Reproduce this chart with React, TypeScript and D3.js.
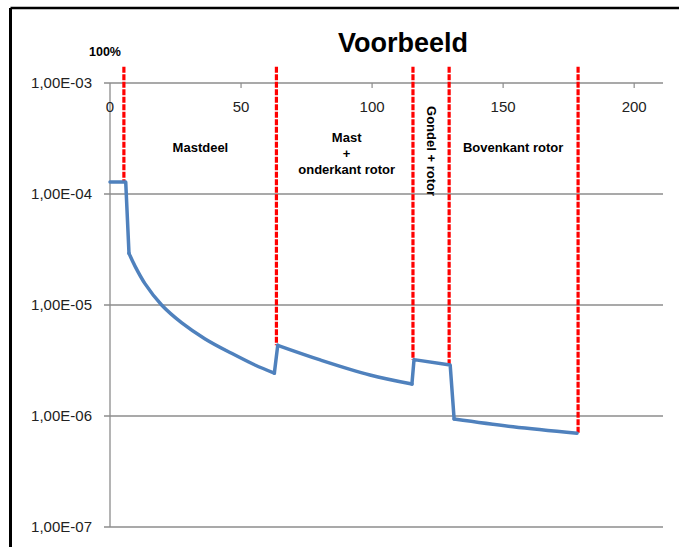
import React from "react";
import * as d3 from "d3";

// blue series (x = position, y = value on log axis)
const lineX = [0, 6.0, 7.25, 9.5, 13.4, 19.7, 27.4, 36.3, 46.4, 55.3, 62.7, 64.0, 80.2, 99.2, 115.2, 116.0, 129.8, 131.3, 153.8, 178.2];
const lineY = [1.28e-4, 1.28e-4, 2.92e-5, 2.25e-5, 1.55e-5, 1.0e-5, 6.9e-6, 4.95e-6, 3.67e-6, 2.88e-6, 2.43e-6, 4.33e-6, 3.2e-6, 2.34e-6, 1.94e-6, 3.22e-6, 2.88e-6, 9.4e-7, 8.0e-7, 7.0e-7];
// index ranges of the smooth (curved) stretches; everything else is straight
const smoothRuns = [[2, 10], [11, 14], [17, 19]];

// red section boundaries
const boundX = [5.3, 63.5, 115.6, 129.4, 178.6];
const boundBottom = [1.3e-4, 4.33e-6, 3.22e-6, 2.88e-6, 7.0e-7];
const boundTop = 1.4e-3;

const xTicks = [0, 50, 100, 150, 200];
const yTicks = [1e-3, 1e-4, 1e-5, 1e-6, 1e-7];

const sections = [
  { lines: ["Mastdeel"], x: 34.5 },
  { lines: ["Mast", "+", "onderkant rotor"], x: 90.3 },
  { lines: ["Bovenkant rotor"], x: 153.8 },
];
const verticalLabel = { text: "Gondel + rotor", x: 122.7 };

const title = "Voorbeeld";
const FONT = "'Liberation Sans', Arial, sans-serif";

const W = 679;
const H = 547;

function fmtExp(v: number) {
  const e = Math.round(Math.log10(v));
  const s = e < 0 ? "-" : "+";
  return `1,00E${s}${String(Math.abs(e)).padStart(2, "0")}`;
}

export default function App() {
  const x = d3.scaleLinear().domain([0, 211]).range([110, 663]);
  const y = d3.scaleLog().domain([1e-7, 1e-3]).range([527, 83]);

  const pts = lineX.map((v, i) => [v, lineY[i]] as [number, number]);
  const lin = d3.line<[number, number]>().x((d) => x(d[0])).y((d) => y(d[1]));
  const smooth = d3
    .line<[number, number]>()
    .x((d) => x(d[0]))
    .y((d) => y(d[1]))
    .curve(d3.curveCatmullRom.alpha(0.5));

  // split the series into straight and curved pieces
  const parts: string[] = [];
  let cur = 0;
  smoothRuns.forEach(([a, b]) => {
    if (a > cur) parts.push(lin(pts.slice(cur, a + 1)) || "");
    parts.push(smooth(pts.slice(a, b + 1)) || "");
    cur = b;
  });
  if (cur < pts.length - 1) parts.push(lin(pts.slice(cur)) || "");

  const [x0, x1] = x.range();
  const yTop = y(1e-3);
  const yBot = y(1e-7);

  return (
    <svg
      width={W}
      height={H}
      style={{ position: "absolute", left: 0, top: 0, display: "block", background: "#fff" }}
      fontFamily={FONT}
    >
      {/* frame edges */}
      <line x1={10.5} y1={8} x2={W} y2={8} stroke="#000" strokeWidth={2.5} />
      <line x1={10.5} y1={8} x2={10.5} y2={H} stroke="#000" strokeWidth={3} />

      <text x={403} y={52} textAnchor="middle" fontSize={27} fontWeight="bold" fill="#000">
        {title}
      </text>

      {/* gridlines */}
      {yTicks.map((t) => (
        <line key={t} x1={x0 - 6} x2={x1} y1={y(t)} y2={y(t)} stroke="#8c8c8c" strokeWidth={1.3} />
      ))}
      <line x1={x0} x2={x0} y1={yTop} y2={yBot} stroke="#8c8c8c" strokeWidth={1.3} />

      {/* x ticks on top axis */}
      {xTicks.map((t) => (
        <g key={t}>
          {t > 0 && <line x1={x(t)} x2={x(t)} y1={yTop} y2={yTop + 5} stroke="#8c8c8c" strokeWidth={1.2} />}
          <text x={x(t)} y={yTop + 29} textAnchor="middle" fontSize={15} fill="#222">
            {t}
          </text>
        </g>
      ))}

      {yTicks.map((t) => (
        <text key={t} x={92} y={y(t) + 5} textAnchor="end" fontSize={15} fill="#222">
          {fmtExp(t)}
        </text>
      ))}

      <text x={105} y={56} textAnchor="middle" fontSize={12.5} fontWeight="bold" fill="#000">
        100%
      </text>

      {/* red boundaries */}
      {boundX.map((b, i) => (
        <line
          key={b}
          x1={x(b)}
          x2={x(b)}
          y1={y(boundTop)}
          y2={y(boundBottom[i])}
          stroke="#ff0000"
          strokeWidth={3.2}
          strokeDasharray="6 1.5"
        />
      ))}

      {/* section labels */}
      {sections.map((s) => (
        <text key={s.x} x={x(s.x)} textAnchor="middle" fontSize={13} fontWeight="bold" fill="#000">
          {s.lines.map((l, i) => (
            <tspan key={i} x={x(s.x)} y={(s.lines.length === 1 ? 151.5 : 141.5) + i * 16}>
              {l}
            </tspan>
          ))}
        </text>
      ))}
      <text
        transform={`translate(${x(verticalLabel.x) - 5},151) rotate(90)`}
        textAnchor="middle"
        fontSize={13}
        fontWeight="bold"
        fill="#000"
      >
        {verticalLabel.text}
      </text>

      {/* series */}
      {parts.map((d, i) => (
        <path
          key={i}
          d={d}
          fill="none"
          stroke="#4f81bd"
          strokeWidth={3.5}
          strokeLinejoin="round"
          strokeLinecap="round"
        />
      ))}
    </svg>
  );
}
